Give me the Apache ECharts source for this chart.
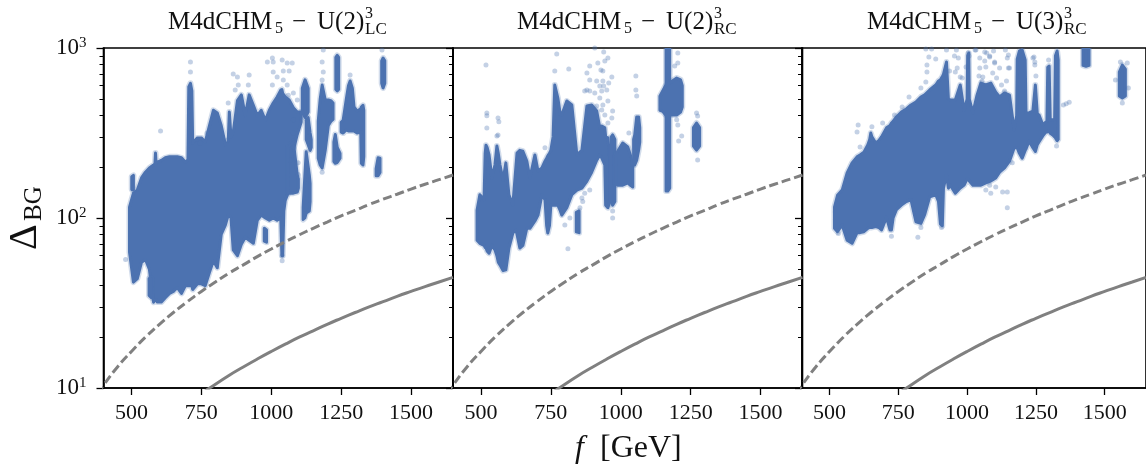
<!DOCTYPE html>
<html><head><meta charset="utf-8">
<style>html,body{margin:0;padding:0;background:#fff}#c{width:1146px;height:466px}</style>
<script src="https://cdn.jsdelivr.net/npm/echarts@6/dist/echarts.min.js"></script>
</head><body><div id="c"></div>
<script>
const xTicks=[500,750,1000,1250,1500];
const yMinorTicks=[20,30,40,50,60,70,80,90,200,300,400,500,600,700,800,900];
const curveSolid=[[730,8.8],[780,10],[850,11.9],[900,13.3],[950,14.8],[1000,16.4],[1050,18.1],[1100,19.9],[1150,21.7],[1200,23.7],[1250,25.7],[1300,27.8],[1350,30],[1400,32.2],[1450,34.6],[1500,37],[1550,39.5],[1600,42],[1650,44.7]];
const curveDashed=[[350,8.05],[400,10.4],[450,13.3],[500,16.4],[550,19.9],[600,23.7],[650,27.8],[700,32.2],[750,37],[800,42],[850,47.5],[900,53],[950,59.3],[1000,65.7],[1050,72.5],[1100,79.6],[1150,87],[1200,94.7],[1250,103],[1300,111],[1350,120],[1400,129],[1450,138],[1500,148],[1550,158],[1600,168],[1650,179]];
// outlines of the dense point clouds, each row: [f, low, high]
const lcMain=[[493,63,116],[507,42,140],[521,44,146],[536,55,172],[550,57,186],[564,50,197],[579,32,205],[584,33,208],[586,33,241],[588,33,210],[593,32,213],[607,32,218],[621,34,226],[636,36,229],[650,37,229],[664,39,229],[679,36,226],[693,40,213],[702,40,220],[705,40,590],[711,40,620],[716,40,560],[719,38,276],[736,41,296],[750,41,296],[764,40,280],[779,48,350],[793,56,430],[807,51,415],[821,80,350],[836,91,270],[846,104,280],[850,104,420],[856,100,300],[864,65,320],[879,60,490],[893,70,530],[907,77,400],[921,74,530],[936,71,460],[950,97,400],[964,104,430],[979,100,375],[993,97,430],[1007,100,475],[1021,97,515],[1034,100,565],[1038,60,570],[1041,60,540],[1045,110,530],[1050,127,515],[1064,145,495],[1079,250,445],[1093,310,420],[1107,367,420]];
const lcLobe=[[1060,140,260],[1079,140,280],[1093,142,179],[1097,150,170]];
const lcDots=[[501,147,175],[507,146,178]];
const lcDot2=[[563,35,44],[571,34,44]];
const lcDot3=[[975,73,87],[983,72,85]];
const lcA=[[1111,420,580],[1121,390,650],[1132,420,580]];
const lcA2=[[1125,290,375],[1132,270,390],[1139,250,316],[1143,260,290]];
const lcB=[[1114,98,115],[1120,100,175],[1125,107,245],[1136,110,180],[1139,125,160]];
const lcC=[[1168,225,370],[1175,205,500],[1182,197,605],[1193,250,495],[1204,350,495],[1213,370,490],[1221,380,475]];
const lcD=[[1231,570,880],[1236,560,905],[1241,570,880]];
const lcE=[[1224,215,280],[1229,210,310],[1236,212,260],[1246,225,240]];
const lcF=[[1250,320,365],[1257,316,375],[1268,330,495],[1276,325,600],[1282,325,640],[1290,325,580],[1296,325,450],[1307,316,425],[1320,320,440],[1322,210,450],[1328,205,460],[1331,230,430]];
const lcG=[[1375,177,195],[1382,177,226],[1389,185,225]];
const lcH=[[1395,620,840],[1400,582,873],[1406,620,840]];
const strayLC=[[604,325],[711,827],[711,722],[864,703],[879,675],[882,606],[871,566],[918,606],[921,694],[846,475],[986,827],[1004,873],[1007,827],[1039,850],[1057,816],[1075,816],[1007,722],[1043,732],[1064,732],[1021,675],[1043,648],[1004,606],[1057,606],[1079,544],[1061,528],[1093,495],[1186,973],[1182,827],[1186,722],[1182,648],[1396,973],[1282,694],[1182,186],[479,57],[1039,60],[1039,56],[746,276],[771,316],[843,288],[1079,316],[1079,262],[1068,219],[1096,211],[1096,180],[1079,378]];
const rc2Main=[[486,74,111],[496,71,137],[511,69,128],[515,67,240],[518,66.6,268],[522,64,260],[529,62,235],[539,69,172],[550,65,205],[557,60,265],[562,55,240],[568,53,205],[579,49,167],[589,49.5,211],[600,66.6,137],[614,81.6,119],[625,85,200],[629,80,241],[639,66.6,250],[650,69,247],[664,87,216],[675,87,172],[693,96,235],[704,104,189],[718,137,197],[729,128,216],[735,90,225],[739,81.6,232],[745,90,240],[750,119,250],[758,119,300],[764,119,606],[775,119,508],[784,110,404],[789,104,404],[807,115,488],[825,137,462],[843,146,235],[861,150,250],[879,165,456],[896,186,462],[914,219,426],[925,235,339],[932,226,348],[943,205,339],[946,119,300],[954,115,296],[961,125,220]];
const rc2Prong=[[966,125,300],[971,119,308],[979,125,290]];
const rc2Dot=[[841,83,108],[851,82,110]];
const rc2Blob=[[982,160,230],[989,156,247],[1007,156,276],[1025,161,262],[1036,155,230],[1043,152,205]];
const rc2Blob2=[[1046,205,290],[1050,205,308],[1057,219,393],[1064,251,393],[1068,280,340]];
const rc2Spike=[[1162,144,1000],[1168,144,1000],[1175,150,1000]];
const rc2Ball=[[1140,430,520],[1150,424,558],[1160,404,600],[1182,404,636],[1200,404,666],[1214,420,650],[1220,450,600]];
const rc2Last=[[1260,265,340],[1271,251,362],[1282,265,340]];
const strayRC2=[[518,795],[521,415],[521,400],[521,338],[561,388],[564,368],[557,304],[561,308],[771,922],[764,732],[814,752],[811,66],[729,259],[907,1000],[939,947],[889,784],[879,713],[918,816],[929,742],[936,732],[954,873],[943,838],[889,648],[914,640],[936,640],[939,598],[957,622],[968,675],[925,598],[932,558],[950,566],[879,566],[889,558],[871,558],[907,544],[925,508],[936,462],[954,488],[914,456],[932,432],[943,404],[971,426],[968,388],[954,362],[1054,684],[1054,566],[1057,522],[1029,316],[1204,935],[1204,816],[1193,784],[1204,352],[1218,304],[1207,284],[1200,378],[1271,415],[1275,398],[1275,219],[971,100],[971,110],[889,146],[871,140],[861,131],[864,125],[854,115],[818,100],[800,91]];
const rc3Main=[[518,87,116],[529,83,136],[546,91,146],[564,74,184],[582,71,211],[600,82,229],[611,82,235],[625,83,244],[639,87,269],[646,88,290],[650,88,316],[654,88,300],[668,89,276],[679,88,285],[689,85,300],[707,101,339],[720,85,350],[725,85,362],[731,100,370],[743,112,393],[761,119,420],[779,125,438],[796,128,462],[814,95,481],[832,93,515],[846,105,530],[864,133,566],[886,137,606],[896,125,640],[903,92,650],[910,90,680],[914,150,700],[925,180,827],[932,150,500],[939,156,495],[957,140,495],[975,150,606],[989,156,430],[1000,170,500],[1002,170,900],[1006,167,935],[1008,165,500],[1021,156,415],[1036,156,528],[1050,156,622],[1068,161,606],[1086,165,622],[1104,172,550],[1118,186,515],[1136,197,544],[1154,216,528],[1171,259,329],[1180,259,400],[1182,259,860],[1190,240,960],[1200,225,973],[1211,250,850],[1214,255,415],[1225,284,415],[1239,259,426],[1248,246,606],[1255,270,410],[1261,280,404],[1275,304,353],[1286,320,367],[1290,320,370],[1293,325,770],[1298,325,784],[1302,315,380],[1311,308,378],[1318,300,380],[1321,296,900],[1327,285,960],[1331,290,850]];
const rc3Top=[[1421,790,1000],[1432,780,1000],[1443,790,1000]];
const rc3Far=[[1553,522,722],[1564,508,794],[1575,522,750]];
const strayRC3=[[850,986],[871,986],[861,885],[886,861],[854,794],[854,722],[832,582],[850,630],[789,515],[764,450],[736,404],[604,352],[600,320],[654,344],[693,362],[611,262],[961,973],[968,873],[925,973],[1004,935],[1032,973],[1046,873],[1064,947],[1082,885],[1100,827],[1068,773],[1093,713],[1057,675],[996,773],[957,722],[975,675],[1139,973],[1146,873],[1154,763],[1243,885],[1246,827],[1296,850],[1371,480],[1350,462],[1360,470],[1582,816],[1557,827],[1586,582],[1539,648],[1564,475],[1146,115],[1146,142],[1129,142],[1086,140],[1068,146],[1104,152],[1082,156],[1164,211],[821,77],[725,78],[832,88],[907,88],[532,81],[1325,265],[1046,763],[1064,838],[1082,897],[1100,816],[1118,763],[1071,935],[1096,960],[1043,684],[1054,640],[1107,666],[1125,606],[1150,910],[1150,763],[1143,640],[1136,558],[1239,873],[1246,794],[1250,684],[954,897],[936,732],[964,763],[982,666],[1029,973],[1007,897]];
const panels=[
 {blobs:[lcMain,lcLobe,lcDots,lcDot2,lcDot3,lcA,lcA2,lcB,lcC,lcD,lcE,lcF,lcG,lcH],stray:strayLC,left:103.5,tx:168,paren:'U(2)',sub:'LC'},
 {blobs:[rc2Main,rc2Prong,rc2Dot,rc2Blob,rc2Blob2,rc2Spike,rc2Ball,rc2Last],stray:strayRC2,left:453,tx:517,paren:'U(2)',sub:'RC'},
 {blobs:[rc3Main,rc3Top,rc3Far],stray:strayRC3,left:802,tx:867,paren:'U(3)',sub:'RC'}];
const BLUE='#4c72b0',SERIF='"Liberation Serif","DejaVu Serif",serif',W=349.5;
const grid=[],xAxis=[],yAxis=[],series=[],graphic=[];
const txt=(x,y,s,size,extra)=>Object.assign({type:'text',x,y,style:{text:s,font:`${(extra&&extra.fs)||''} ${size}px ${SERIF}`,fill:'#111',align:'left',verticalAlign:'middle'}},extra&&extra.el);
panels.forEach((p,i)=>{
 grid.push({left:p.left,top:48,width:W,height:340,show:true,borderColor:'#000',borderWidth:1.6,backgroundColor:'transparent'});
 xAxis.push({type:'value',gridIndex:i,min:400,max:1650,splitLine:{show:false},
  axisLine:{show:true,lineStyle:{color:'#000',width:1.6}},
  axisTick:{show:true,length:7,customValues:xTicks,lineStyle:{color:'#000',width:1.3}},
  axisLabel:{show:true,customValues:xTicks,margin:14,color:'#111',fontFamily:SERIF,fontSize:22,formatter:v=>String(v)}});
 yAxis.push({type:'log',logBase:10,gridIndex:i,min:10,max:1000,splitLine:{show:false},minorSplitLine:{show:false},
  axisLine:{show:true,onZero:false,lineStyle:{color:'#000',width:1.6}},
  axisTick:{show:true,length:7,lineStyle:{color:'#000',width:1.3}},
  minorTick:{show:false},
  axisLabel:{show:i===0,margin:17,align:'right',formatter:v=>`{a|10}{b|${Math.round(Math.log10(v))}}`,
   rich:{a:{fontFamily:SERIF,fontSize:23,color:'#111'},b:{fontFamily:SERIF,fontSize:15,color:'#111',padding:[0,0,10,0]}}}});
 p.blobs.forEach(rows=>{
  series.push({type:'custom',xAxisIndex:i,yAxisIndex:i,clip:true,z:2,silent:true,animation:false,
   encode:{x:0,y:[1,2]},data:rows,
   renderItem:(params,api)=>{
    if(params.dataIndex!==0) return null;
    const up=rows.map(r=>api.coord([r[0],r[2]])),dn=rows.map(r=>api.coord([r[0],r[1]])).reverse();
    const points=up.concat(dn);
    return {type:'group',children:[
     {type:'polygon',shape:{points},style:{fill:'none',stroke:BLUE,opacity:.25,lineWidth:6,lineJoin:'round'}},
     {type:'polygon',shape:{points},style:{fill:BLUE,stroke:BLUE,lineWidth:3,lineJoin:'round'}}]};
   }});
 });
 series.push({type:'scatter',xAxisIndex:i,yAxisIndex:i,z:2,symbolSize:5,silent:true,animation:false,itemStyle:{color:BLUE,opacity:.33},data:p.stray});
 series.push({type:'line',xAxisIndex:i,yAxisIndex:i,z:3,showSymbol:false,smooth:true,silent:true,animation:false,lineStyle:{color:'#808080',width:3,type:[9,4]},data:curveDashed});
 series.push({type:'line',xAxisIndex:i,yAxisIndex:i,z:3,showSymbol:false,smooth:true,silent:true,animation:false,lineStyle:{color:'#808080',width:3},data:curveSolid});
 const t=p.tx;
 graphic.push(txt(t,22,'M4dCHM',25),txt(t+107,29,'5',16),txt(t+124,22,'\u2212',25),txt(t+149,22,p.paren,25),txt(t+197,14,'3',16),txt(t+197,30,p.sub,17));
});
panels.forEach((p,i)=>{
 yAxis.push({type:'log',logBase:10,gridIndex:i,min:10,max:1000,position:'left',splitLine:{show:false},axisLine:{show:false},axisLabel:{show:false},
  axisTick:{show:true,length:4,customValues:yMinorTicks,lineStyle:{color:'#000',width:1}}});
});
graphic.push(txt(0,0,'\u0394',40,{el:{x:25,y:250,rotation:Math.PI/2}}));
graphic.push(txt(0,0,'BG',25,{el:{x:34,y:221,rotation:Math.PI/2}}));
graphic.push(txt(575,449,'f',32,{fs:'italic'}),txt(600,449,'[GeV]',32));
const chart=echarts.init(document.getElementById('c'),null,{renderer:'canvas'});
chart.setOption({animation:false,backgroundColor:'#fff',grid,xAxis,yAxis,series,graphic});
</script></body></html>
